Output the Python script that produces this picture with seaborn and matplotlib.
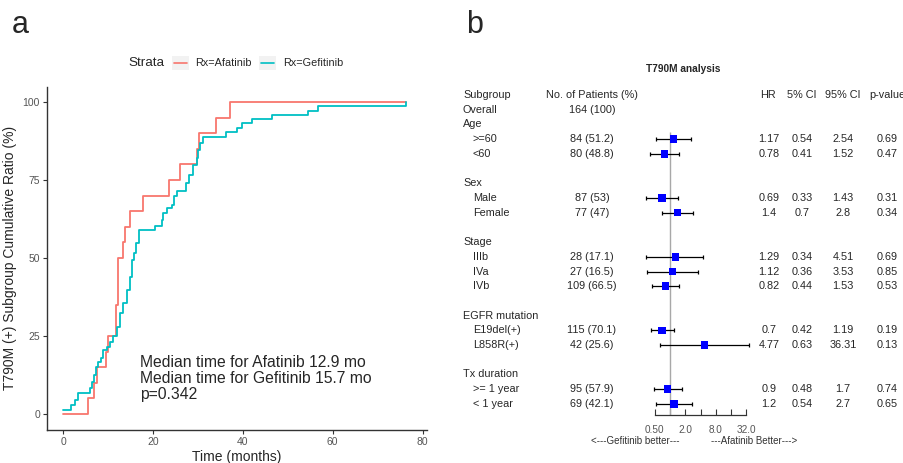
import numpy as np
import pandas as pd
import matplotlib
matplotlib.use('Agg')
import matplotlib.pyplot as plt
import matplotlib.transforms as mtransforms
from matplotlib.patches import Rectangle
from matplotlib.lines import Line2D
import seaborn as sns

sns.set_theme(style='white')
plt.rcParams['font.family'] = ['Liberation Sans', 'DejaVu Sans']

# Panel a: cumulative ratio step curves (months, %)
afatinib_time = [0, 5.4, 6.9, 7.4, 9.5, 10.0, 11.7, 12.2, 13.4, 13.7, 14.9, 17.8,
                 23.5, 26.1, 29.7, 30.2, 34.0, 37.1, 76.3]
afatinib_ratio = [0, 5, 10, 15, 20, 25, 35, 50, 55, 60, 65, 70,
                  75, 80, 85, 90, 95, 100, 100]
gefitinib_time = [0, 1.7, 2.6, 3.3, 5.9, 6.5, 6.9, 7.3, 7.8, 8.4, 8.9, 9.7, 10.4,
                  11.1, 11.9, 12.6, 13.4, 14.1, 14.9, 15.4, 15.7, 16.2, 16.9, 20.4,
                  21.9, 22.3, 23.0, 24.1, 24.7, 25.4, 27.3, 27.9, 28.8, 29.7, 30.1,
                  30.4, 31.2, 36.2, 38.6, 39.9, 42.0, 46.4, 54.4, 56.8, 76.3]
gefitinib_ratio = [1.4, 2.8, 4.5, 6.8, 8.2, 10.4, 12.5, 15.0, 16.7, 17.8, 20.5, 21.6, 23.2,
                   25.0, 28.0, 32.3, 35.7, 39.7, 44.0, 49.4, 51.5, 54.7, 59.0, 60.3,
                   62.2, 64.3, 65.9, 67.0, 69.9, 71.6, 73.9, 76.6, 79.8, 82.0, 84.6,
                   87.0, 88.9, 90.5, 91.8, 93.2, 94.5, 95.8, 97.1, 98.7, 100]
strata = ['Rx=Afatinib', 'Rx=Gefitinib']
strata_colors = ['#F8766D', '#00BFC4']
median_text = ['Median time for Afatinib 12.9 mo',
               'Median time for Gefitinib 15.7 mo',
               'p=0.342']

# Panel b: forest plot rows
row_labels = ['Overall', 'Age', '>=60', '<60', '', 'Sex', 'Male', 'Female', '',
              'Stage', 'IIIb', 'IVa', 'IVb', '', 'EGFR mutation', 'E19del(+)',
              'L858R(+)', '', 'Tx duration', '>= 1 year', '< 1 year']
row_indent = [0, 0, 1, 1, 0, 0, 1, 1, 0, 0, 1, 1, 1, 0, 0, 1, 1, 0, 0, 1, 1]
patients = ['164 (100)', '', '84 (51.2)', '80 (48.8)', '', '', '87 (53)', '77 (47)', '',
            '', '28 (17.1)', '27 (16.5)', '109 (66.5)', '', '', '115 (70.1)',
            '42 (25.6)', '', '', '95 (57.9)', '69 (42.1)']
hr = [None, None, 1.17, 0.78, None, None, 0.69, 1.4, None, None, 1.29, 1.12, 0.82,
      None, None, 0.7, 4.77, None, None, 0.9, 1.2]
ci_low = [None, None, 0.54, 0.41, None, None, 0.33, 0.7, None, None, 0.34, 0.36, 0.44,
          None, None, 0.42, 0.63, None, None, 0.48, 0.54]
ci_high = [None, None, 2.54, 1.52, None, None, 1.43, 2.8, None, None, 4.51, 3.53, 1.53,
           None, None, 1.19, 36.31, None, None, 1.7, 2.7]
p_values = [None, None, 0.69, 0.47, None, None, 0.31, 0.34, None, None, 0.69, 0.85, 0.53,
            None, None, 0.19, 0.13, None, None, 0.74, 0.65]
hr_ticks = [0.5, 1, 2, 4, 8, 16, 32]
hr_tick_labels = ['0.50', '', '2.0', '', '8.0', '', '32.0']

W, H = 904, 463
fig = plt.figure(figsize=(W / 100, H / 100), dpi=100)


def fx(px):
    return px / W


def fy(py):
    return 1 - py / H


# ---------------- panel a ----------------
ax1 = fig.add_axes([fx(47), fy(430), fx(427) - fx(47), fy(86.7) - fy(430)])
km = pd.concat([
    pd.DataFrame({'time': afatinib_time, 'ratio': afatinib_ratio, 'Strata': strata[0]}),
    pd.DataFrame({'time': gefitinib_time, 'ratio': gefitinib_ratio, 'Strata': strata[1]}),
])
sns.lineplot(data=km, x='time', y='ratio', hue='Strata', palette=strata_colors,
             estimator=None, sort=False, drawstyle='steps-post', linewidth=1.3,
             legend=False, ax=ax1)
ax1.set_xlim(-3.63, 81.0)
ax1.set_ylim(-5.13, 104.9)
ax1.set_xticks([0, 20, 40, 60, 80])
ax1.set_yticks([0, 25, 50, 75, 100])
for side in ['top', 'right']:
    ax1.spines[side].set_visible(False)
for side in ['left', 'bottom']:
    ax1.spines[side].set_color('#333333')
    ax1.spines[side].set_linewidth(1.0)
ax1.tick_params(axis='both', direction='out', length=3, width=0.8, color='#333333',
                labelsize=7.5, labelcolor='#555555', pad=2, bottom=True, left=True)
ax1.set_xlabel('Time (months)', fontsize=10, labelpad=2)
ax1.set_ylabel('T790M (+) Subgroup Cumulative Ratio (%)', fontsize=10, labelpad=4)
ax1.text(17.0, 11.4, '\n'.join(median_text), fontsize=11.3, ha='left', va='center',
         linespacing=1.08)

# legend on top
fig.text(fx(128), fy(63), 'Strata', fontsize=9.7, ha='left', va='center')
key_x = [172, 259]
text_x = [195, 283]
for kx, tx, lab, col in zip(key_x, text_x, strata, strata_colors):
    fig.patches.append(Rectangle((fx(kx), fy(70)), fx(17), fy(56) - fy(70),
                                 transform=fig.transFigure, facecolor='#F2F2F2',
                                 edgecolor='none'))
    fig.lines.append(Line2D([fx(kx + 2), fx(kx + 15)], [fy(63), fy(63)],
                            transform=fig.transFigure, color=col, linewidth=1.2))
    fig.text(fx(tx), fy(63), lab, fontsize=7.8, ha='left', va='center')

fig.text(fx(12), fy(33), 'a', fontsize=22, ha='left', va='baseline')
fig.text(fx(466), fy(33), 'b', fontsize=22, ha='left', va='baseline')

# ---------------- panel b ----------------
row_px = 14.71
top_px, bot_px = 88, 415
ax2 = fig.add_axes([fx(630), fy(bot_px), fx(760) - fx(630), fy(top_px) - fy(bot_px)])
ax2.set_xscale('log', base=2)
ax2.set_xlim(2 ** (-40 / 15.3), 2 ** (90 / 15.3))
ax2.set_ylim((bot_px - 95) / row_px - 1, (top_px - 95) / row_px - 1)
ax2.patch.set_alpha(0)

rows = np.arange(len(row_labels))
forest = pd.DataFrame({'row': rows, 'hr': hr, 'lo': ci_low, 'hi': ci_high}).dropna()
forest = forest.astype(float)
ax2.vlines(1, 1.5, ax2.get_ylim()[0], color='#A8A8A8', linewidth=1.0, zorder=1)
ax2.errorbar(forest['hr'], forest['row'],
             xerr=[forest['hr'] - forest['lo'], forest['hi'] - forest['hr']],
             fmt='none', ecolor='black', elinewidth=0.9, capsize=1.6, capthick=0.9,
             zorder=2)
sns.scatterplot(data=forest, x='hr', y='row', marker='s', s=30, color='#0000FF',
                edgecolor='none', zorder=3, ax=ax2)
ax2.set_xlabel('')
ax2.set_ylabel('')
ax2.set_yticks([])
for side in ['top', 'right', 'left']:
    ax2.spines[side].set_visible(False)
ax2.spines['bottom'].set_bounds(0.5, 32)
ax2.spines['bottom'].set_color('#333333')
ax2.spines['bottom'].set_linewidth(0.9)
ax2.set_xticks(hr_ticks)
ax2.set_xticklabels(hr_tick_labels)
ax2.xaxis.set_minor_locator(matplotlib.ticker.NullLocator())
ax2.tick_params(axis='x', direction='in', length=4, width=0.8, color='#333333',
                labelsize=7.2, labelcolor='#555555', pad=7, bottom=True)

trans = mtransforms.blended_transform_factory(fig.transFigure, ax2.transData)
fs = 7.8
fig.text(fx(683), fy(69), 'T790M analysis', fontsize=7.3, fontweight='bold',
         ha='center', va='center')
header_row = -1
ax2.text(fx(463), header_row, 'Subgroup', transform=trans, fontsize=fs, ha='left', va='center')
ax2.text(fx(592), header_row, 'No. of Patients (%)', transform=trans, fontsize=fs,
         ha='center', va='center')
for cx, lab in zip([768, 802, 843, 887], ['HR', '5% CI', '95% CI', 'p-value']):
    ax2.text(fx(cx), header_row, lab, transform=trans, fontsize=fs, ha='center', va='center')

for r in rows:
    if row_labels[r]:
        lx = 473 if row_indent[r] else 463
        ax2.text(fx(lx), r, row_labels[r], transform=trans, fontsize=fs,
                 ha='left', va='center')
    if patients[r]:
        ax2.text(fx(592), r, patients[r], transform=trans, fontsize=fs,
                 ha='center', va='center')
    if hr[r] is not None:
        for cx, val in zip([769, 802, 843, 887], [hr[r], ci_low[r], ci_high[r], p_values[r]]):
            ax2.text(fx(cx), r, f'{val:g}', transform=trans, fontsize=fs,
                     ha='center', va='center')

fig.text(fx(635), fy(441.5), '<---Gefitinib better---', fontsize=7, color='#333333',
         ha='center', va='center')
fig.text(fx(754), fy(441.5), '---Afatinib Better--->', fontsize=7, color='#333333',
         ha='center', va='center')

fig.savefig('out.png', dpi=100)
